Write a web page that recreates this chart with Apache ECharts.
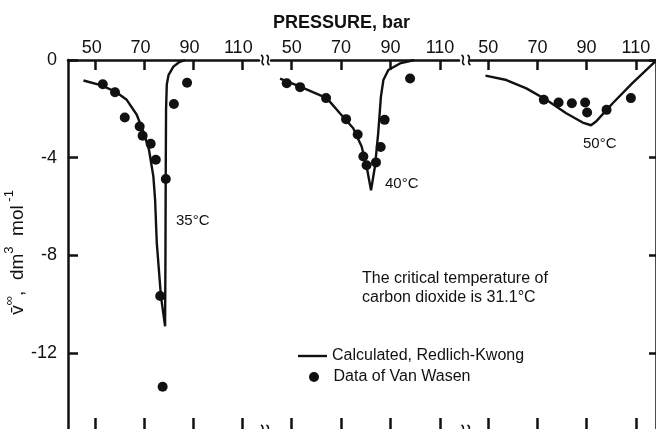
<!DOCTYPE html>
<html><head><meta charset="utf-8">
<script src="https://cdn.jsdelivr.net/npm/echarts@6/dist/echarts.min.js"></script>
<style>html,body{margin:0;padding:0;background:#fff}#c{width:656px;height:429px}</style>
</head><body><div id="c"></div>
<script>
// ---- data (pressure in bar, partial molar volume in dm3/mol) ----
const pressureTicks = [50, 70, 90, 110];
const volumeTicks = [0, -4, -8, -12];
const tempLabels = ['35°C', '40°C', '50°C'];

const calc35 = [[45,-0.84],[52,-1.03],[58,-1.29],[62.7,-1.63],[66.8,-2.24],[69.5,-2.93],[71.8,-3.67],[73.6,-4.76],[74.3,-5.7],[75.0,-7.48],[76.7,-9.66],[78.4,-10.9],[78.55,-8.0],[78.65,-4.9],[78.8,-2.0],[79.1,-1.0],[79.8,-0.62],[81.8,-0.27],[84,-0.1],[86.6,0.0]];
const data35 = [[52.9,-0.99],[57.9,-1.32],[61.9,-2.35],[68.0,-2.72],[69.2,-3.10],[72.5,-3.43],[74.6,-4.08],[78.7,-4.87],[82.0,-1.80],[87.4,-0.93],[76.4,-9.66],[77.4,-13.37]];

const calc40 = [[45.3,-0.76],[53.4,-1.09],[64.2,-1.56],[69.5,-2.18],[74.9,-2.79],[78.3,-3.54],[80.3,-4.35],[82.1,-5.33],[83.7,-4.35],[85.0,-2.99],[86.1,-1.50],[87.1,-0.82],[89.1,-0.41],[93.8,-0.14],[99.6,0.0]];
const data40 = [[48.0,-0.95],[53.4,-1.11],[63.9,-1.56],[72.0,-2.42],[76.7,-3.05],[79.0,-3.95],[80.3,-4.31],[84.1,-4.19],[86.0,-3.56],[87.6,-2.45],[97.9,-0.76]];

const calc50 = [[48.9,-0.64],[57.4,-0.82],[65.5,-1.16],[73.6,-1.63],[81.7,-2.18],[88.4,-2.56],[91.8,-2.67],[93.8,-2.52],[100.6,-1.77],[108.6,-0.95],[116.1,-0.23],[118,-0.05]];
const data50 = [[72.6,-1.63],[78.6,-1.74],[84.0,-1.77],[89.4,-1.74],[90.2,-2.15],[98.1,-2.04],[108.0,-1.56]];

// ---- layout ----
const FONT = 'Liberation Sans, Arial, Helvetica, sans-serif';
const INK = '#111';
const panels = [
  {left: 68,  width: 191, min: 38.66, max: 116.84, labelPad: [0, 8, 0, 0]},
  {left: 271, width: 188, min: 41.63, max: 117.69, labelPad: 0},
  {left: 470, width: 187, min: 42.6,  max: 118.2,  labelPad: 0}
];
const TOP = 60, HEIGHT = 370, YMIN = -15.1;
const AXW = 2.5;

const grids = panels.map(p => ({left: p.left, top: TOP, width: p.width, height: HEIGHT}));
const xAxes = [];
const yAxes = [];
panels.forEach((p, i) => {
  xAxes.push({
    type: 'value', gridIndex: i, position: 'top', min: p.min, max: p.max,
    axisLine: {show: true, onZero: false, lineStyle: {color: INK, width: AXW}},
    axisTick: {show: true, inside: true, length: 10, customValues: pressureTicks, lineStyle: {color: INK, width: AXW}},
    axisLabel: {show: true, customValues: pressureTicks, margin: 3, padding: p.labelPad, color: INK, fontSize: 18, fontFamily: FONT},
    splitLine: {show: false}
  });
  xAxes.push({
    type: 'value', gridIndex: i, position: 'bottom', min: p.min, max: p.max,
    axisLine: {show: false, onZero: false},
    axisTick: {show: true, inside: true, length: 11, customValues: pressureTicks, lineStyle: {color: INK, width: AXW}},
    axisLabel: {show: false},
    splitLine: {show: false}
  });
});
const nameRich = {
  m: {fontSize: 19, fontFamily: FONT, color: INK, verticalAlign: 'bottom', lineHeight: 24},
  s: {fontSize: 13, fontFamily: FONT, color: INK, verticalAlign: 'top', lineHeight: 24}
};
yAxes.push({
  type: 'value', gridIndex: 0, min: YMIN, max: 0, position: 'left',
  name: '{m|v\u0304}{s|∞}{m|,  dm}{s|3}{m|  mol}{s| -1}{m|   }', nameLocation: 'middle', nameRotate: 90, nameGap: 34,
  nameTextStyle: {color: INK, fontFamily: FONT, rich: nameRich},
  axisLine: {show: true, onZero: false, lineStyle: {color: INK, width: AXW}},
  axisTick: {show: true, inside: true, length: 10, customValues: volumeTicks, lineStyle: {color: INK, width: AXW}},
  axisLabel: {show: true, customValues: volumeTicks, margin: 11, color: INK, fontSize: 18, fontFamily: FONT},
  splitLine: {show: false}
});
yAxes.push({type: 'value', gridIndex: 1, min: YMIN, max: 0, show: false});
yAxes.push({
  type: 'value', gridIndex: 2, min: YMIN, max: 0, position: 'right',
  axisLine: {show: true, onZero: false, lineStyle: {color: INK, width: AXW}},
  axisTick: {show: true, inside: true, length: 7, customValues: volumeTicks, lineStyle: {color: INK, width: AXW}},
  axisLabel: {show: false},
  splitLine: {show: false}
});

const LINE_NAME = 'Calculated, Redlich-Kwong';
const DOT_NAME = 'Data of Van Wasen';
const calcSets = [calc35, calc40, calc50];
const dataSets = [data35, data40, data50];
const series = [];
calcSets.forEach((d, i) => series.push({
  name: LINE_NAME, type: 'line', xAxisIndex: i * 2, yAxisIndex: i,
  data: d, symbol: 'none', smooth: false, lineStyle: {color: INK, width: 2.4}, itemStyle: {color: INK},
  clip: true, silent: true, animation: false
}));
dataSets.forEach((d, i) => series.push({
  name: DOT_NAME, type: 'scatter', xAxisIndex: i * 2, yAxisIndex: i,
  data: d, symbol: 'circle', symbolSize: 10, itemStyle: {color: INK, opacity: 1}, silent: true, animation: false
}));

// axis-break squiggles
function squiggle(cx, cy) {
  return {type: 'bezierCurve', silent: true,
    shape: {x1: cx - 1.5, y1: cy - 5, cpx1: cx + 4, cpy1: cy - 2, cpx2: cx - 4, cpy2: cy + 2, x2: cx + 1.5, y2: cy + 5},
    style: {stroke: INK, lineWidth: 1.6, fill: null}};
}
const graphics = [];
[[262.5, 268], [463, 469]].forEach(pair => pair.forEach(cx => {
  graphics.push(squiggle(cx, TOP));
  graphics.push(squiggle(cx, TOP + HEIGHT));
}));
const txt = (x, y, s, size) => ({type: 'text', left: x, top: y, silent: true,
  style: {text: s, fill: INK, font: size + 'px ' + FONT}});
graphics.push(txt(176, 213, tempLabels[0], 15));
graphics.push(txt(385, 176, tempLabels[1], 15));
graphics.push(txt(583, 136, tempLabels[2], 15));
graphics.push({type: 'text', left: 362, top: 269, silent: true,
  style: {text: 'The critical temperature of\ncarbon dioxide is 31.1°C', fill: INK, font: '16px ' + FONT, lineHeight: 19}});

const chart = echarts.init(document.getElementById('c'), null, {renderer: 'canvas'});
chart.setOption({
  animation: false,
  backgroundColor: '#fff',
  title: {text: 'PRESSURE, bar', left: 268, top: 9,
    textStyle: {fontSize: 18, fontWeight: 'bold', color: INK, fontFamily: FONT}},
  legend: [
    {orient: 'vertical', left: 293, top: 343, itemWidth: 29, itemHeight: 2.4, selectedMode: false,
      data: [{name: LINE_NAME, icon: 'rect'}],
      textStyle: {fontSize: 16, color: INK, fontFamily: FONT, padding: [4, 0, 0, 0]}},
    {orient: 'vertical', left: 304, top: 364, itemWidth: 29, itemHeight: 10, selectedMode: false,
      data: [{name: DOT_NAME, icon: 'circle'}],
      textStyle: {fontSize: 16, color: INK, fontFamily: FONT, padding: [0, 0, 6, 0]}}
  ],
  grid: grids, xAxis: xAxes, yAxis: yAxes, series: series, graphic: graphics
});
</script></body></html>
